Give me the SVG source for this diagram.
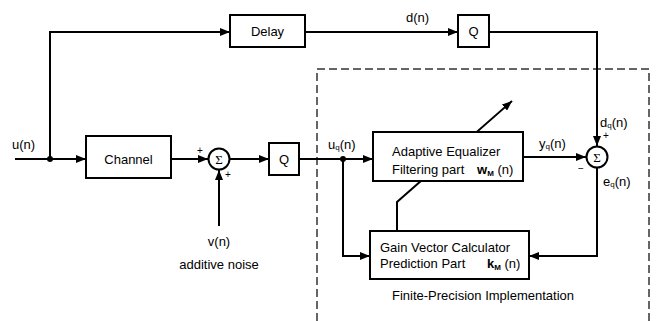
<svg xmlns="http://www.w3.org/2000/svg" width="661" height="321" viewBox="0 0 661 321">
<style>
  .box{fill:#fff;stroke:#000;stroke-width:2}
  .ln{fill:none;stroke:#000;stroke-width:2}
  .t{font-family:"Liberation Sans",Arial,sans-serif;font-size:13px;fill:#000}
  .s{font-size:8px}
  .sm{font-family:"Liberation Sans",Arial,sans-serif;font-size:10px;fill:#000}
  .sig{font-family:"Liberation Serif","Times New Roman",serif;font-size:13px;fill:#000}
  .dash{fill:none;stroke:#333;stroke-width:1.5;stroke-dasharray:8 4}
</style>
<defs>
  <marker id="ar" viewBox="0 0 10 8" refX="10" refY="4" markerWidth="10" markerHeight="8" markerUnits="userSpaceOnUse" orient="auto">
    <path d="M0,0 L10,4 L0,8 z" fill="#000"/>
  </marker>
</defs>
<rect width="661" height="321" fill="#fff"/>
<path class="dash" d="M317,321 V69 H649 V321"/>
<g id="connectors">
  <path class="ln" d="M15,159 H86" marker-end="url(#ar)"/>
  <path class="ln" d="M50,159 V32 H230" marker-end="url(#ar)"/>
  <path class="ln" d="M305,32 H458" marker-end="url(#ar)"/>
  <path class="ln" d="M489,32 H597 V146" marker-end="url(#ar)"/>
  <path class="ln" d="M171,159 H208" marker-end="url(#ar)"/>
  <path class="ln" d="M219,226 V170" marker-end="url(#ar)"/>
  <path class="ln" d="M230,159 H269" marker-end="url(#ar)"/>
  <path class="ln" d="M299,159 H373" marker-end="url(#ar)"/>
  <path class="ln" d="M343,159 V256 H370" marker-end="url(#ar)"/>
  <path class="ln" d="M523,157 H586" marker-end="url(#ar)"/>
  <path class="ln" d="M597,168 V256 H529" marker-end="url(#ar)"/>
  <path class="ln" d="M397,231 V202 L512,101" marker-end="url(#ar)"/>
  <circle cx="50" cy="159" r="3" fill="#000"/>
  <circle cx="343" cy="159" r="3" fill="#000"/>
</g>
<g id="delay">
  <rect class="box" x="230" y="15" width="75" height="32"/>
  <text class="t" x="267.5" y="36" text-anchor="middle">Delay</text>
</g>
<g id="q1">
  <rect class="box" x="458" y="15" width="31" height="32"/>
  <text class="t" x="473.5" y="36" text-anchor="middle">Q</text>
</g>
<g id="channel">
  <rect class="box" x="86" y="136" width="85" height="42"/>
  <text class="t" x="128.5" y="164" text-anchor="middle">Channel</text>
</g>
<g id="sum1">
  <circle class="box" cx="219" cy="159" r="10.5"/>
  <text class="sig" x="219" y="163.5" text-anchor="middle">Σ</text>
  <text class="sm" x="200" y="154" text-anchor="middle">+</text>
  <text class="sm" x="228" y="178" text-anchor="middle">+</text>
</g>
<g id="q2">
  <rect class="box" x="269" y="143" width="30" height="32"/>
  <text class="t" x="284" y="164" text-anchor="middle">Q</text>
</g>
<g id="equalizer">
  <rect class="box" x="373" y="132" width="150" height="49"/>
  <text class="t" x="392" y="156">Adaptive Equalizer</text>
  <text class="t" x="392" y="174">Filtering part</text>
  <text class="t" x="477" y="174"><tspan font-weight="bold">w</tspan><tspan class="s" font-weight="bold" dy="2">M</tspan><tspan dy="-2"> (n)</tspan></text>
</g>
<g id="sum2">
  <circle class="box" cx="597" cy="157" r="10.5"/>
  <text class="sig" x="597" y="161.5" text-anchor="middle">Σ</text>
  <text class="sm" x="606" y="139" text-anchor="middle">+</text>
  <text class="sm" x="581" y="172" text-anchor="middle">−</text>
</g>
<g id="gain">
  <rect class="box" x="370" y="231" width="159" height="48"/>
  <text class="t" x="380" y="252">Gain Vector Calculator</text>
  <text class="t" x="380" y="268">Prediction Part</text>
  <text class="t" x="487" y="268"><tspan font-weight="bold">k</tspan><tspan class="s" font-weight="bold" dy="2">M</tspan><tspan dy="-2"> (n)</tspan></text>
</g>
<g id="labels">
  <text class="t" x="12" y="149">u(n)</text>
  <text class="t" x="406" y="22">d(n)</text>
  <text class="t" x="328" y="149">u<tspan class="s" dy="1">q</tspan><tspan dy="-1">(n)</tspan></text>
  <text class="t" x="539" y="148">y<tspan class="s" dy="1">q</tspan><tspan dy="-1">(n)</tspan></text>
  <text class="t" x="600" y="127">d<tspan class="s" dy="1">q</tspan><tspan dy="-1">(n)</tspan></text>
  <text class="t" x="603" y="186">e<tspan class="s" dy="1">q</tspan><tspan dy="-1">(n)</tspan></text>
  <text class="t" x="219" y="246" text-anchor="middle">v(n)</text>
  <text class="t" x="219" y="269" text-anchor="middle">additive noise</text>
  <text class="t" x="483" y="300" text-anchor="middle">Finite-Precision Implementation</text>
</g>
</svg>
